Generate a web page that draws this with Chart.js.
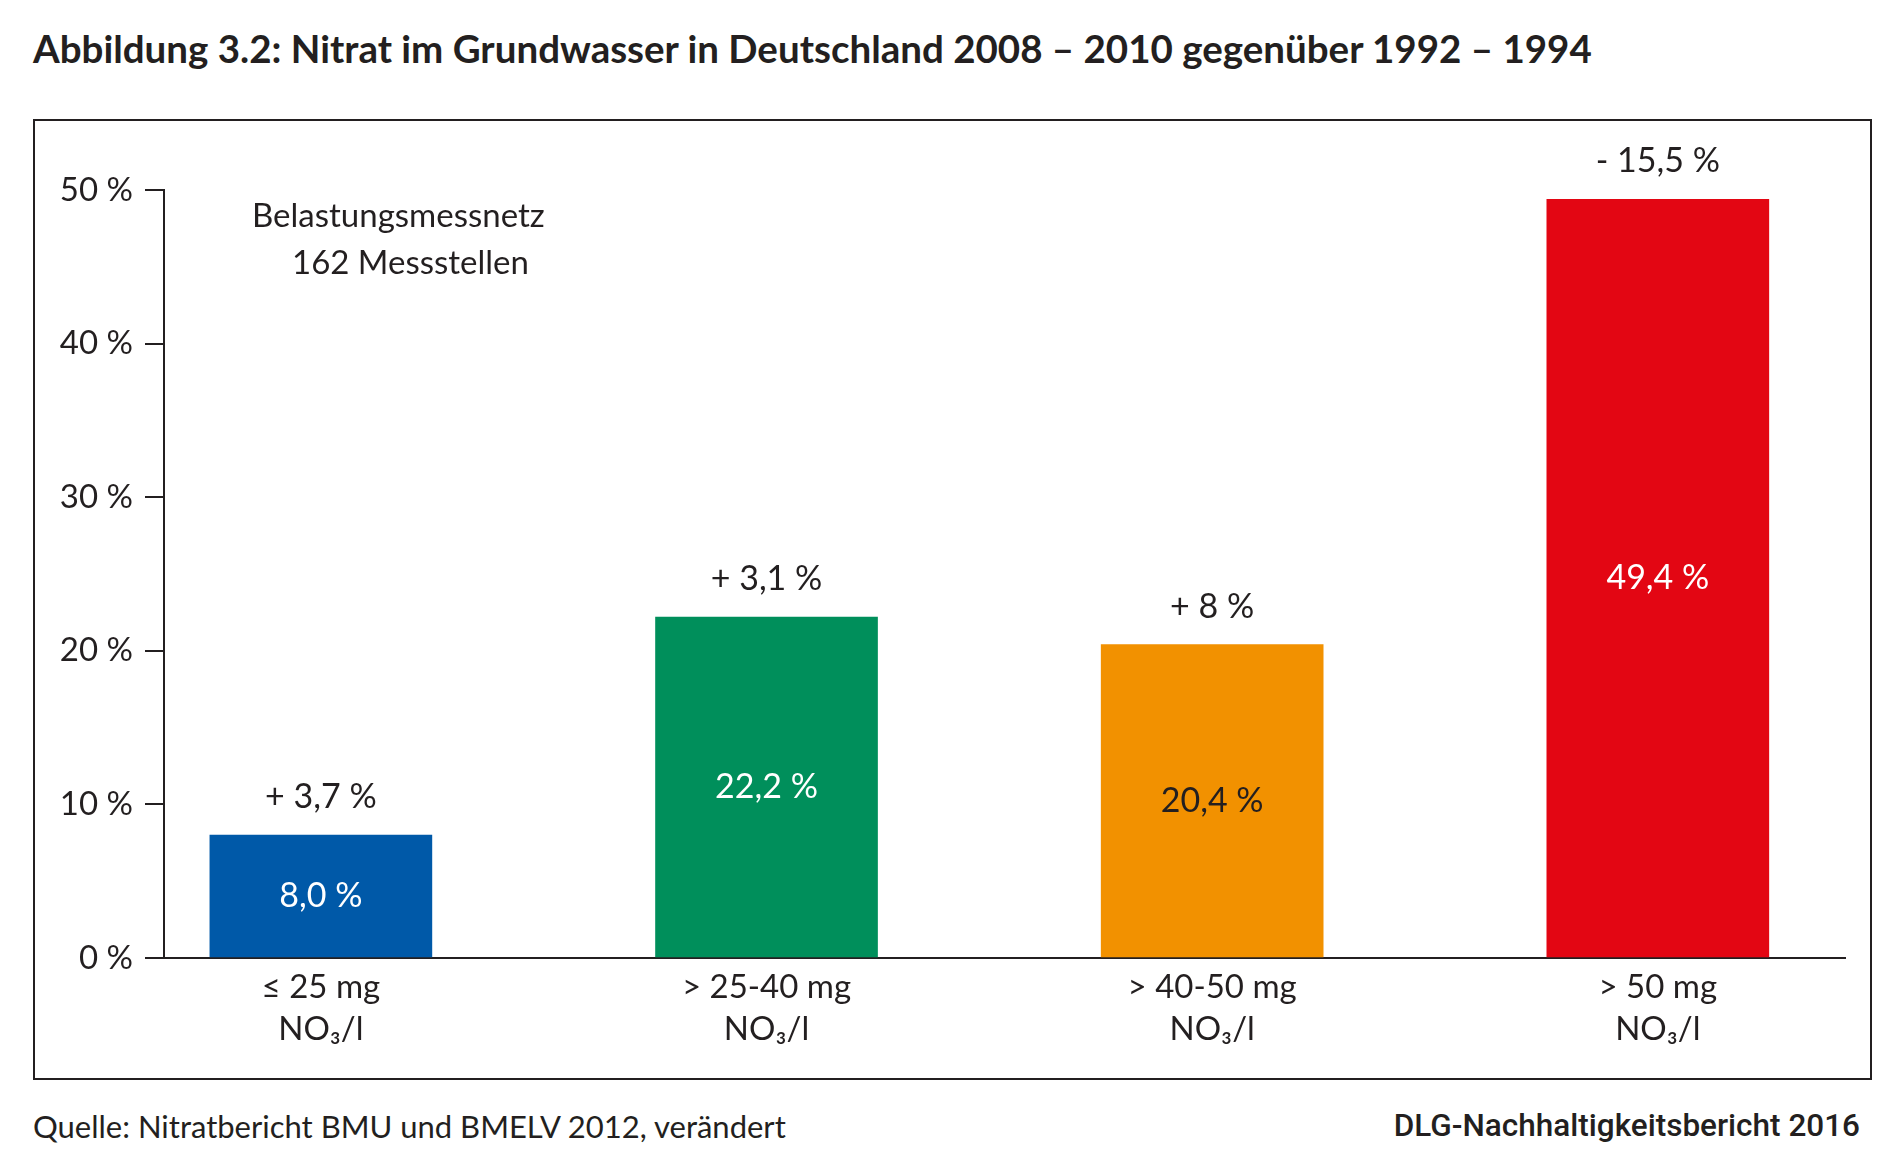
<!DOCTYPE html>
<html lang="de">
<head>
<meta charset="utf-8">
<title>Nitrat im Grundwasser</title>
<script src="https://cdn.jsdelivr.net/npm/chart.js@4.4.1/dist/chart.umd.min.js"></script>
<style>
    body {
        margin: 0;
        width: 1900px;
        height: 1167px;
        background: #fff;
        position: relative;
        font-family: Lato, sans-serif;
        color: #231f20;
    }
    #titel {
        position: absolute;
        left: 33px;
        top: 25px;
        font: bold 38.5px Lato, sans-serif;
        white-space: nowrap;
    }
    #rahmen {
        position: absolute;
        left: 33px;
        top: 119px;
        width: 1835px;
        height: 957px;
        border: 2px solid #231f20;
    }
    #quelle {
        position: absolute;
        left: 33px;
        top: 1107px;
        font: 31px Lato, sans-serif;
        white-space: nowrap;
    }
    #dlg {
        position: absolute;
        right: 40px;
        top: 1107px;
        font: 500 31.5px Roboto, sans-serif;
        white-space: nowrap;
    }
</style>
</head>
<body>
<div id="titel">Abbildung 3.2: Nitrat im Grundwasser in Deutschland 2008 – 2010 gegenüber 1992 – 1994</div>
<div id="rahmen"><canvas id="grafico"></canvas></div>
<div id="quelle">Quelle: Nitratbericht BMU und BMELV 2012, verändert</div>
<div id="dlg">DLG-Nachhaltigkeitsbericht 2016</div>

<script>
"use strict"

// Konzentrationsklassen (mg NO3/l)
let kategorien = [
    ["≤ 25 mg", "NO₃/l"],
    ["> 25-40 mg", "NO₃/l"],
    ["> 40-50 mg", "NO₃/l"],
    ["> 50 mg", "NO₃/l"]
];
// Anteil der Messstellen 2008-2010 in %
let anteile = [8.0, 22.2, 20.4, 49.4];
// Veraenderung gegenueber 1992-1994 in Prozentpunkten
let veraenderung = [3.7, 3.1, 8, -15.5];
let yTicks = [0, 10, 20, 30, 40, 50];

let farben = ["#0059a8", "#008f5b", "#f29100", "#e30613"];
let textFarben = ["#ffffff", "#ffffff", "#231f20", "#ffffff"];

function formatAnteil(v) {
    return v.toFixed(1).replace(".", ",") + " %";
}

function formatDelta(v) {
    let segno = v < 0 ? "-" : "+";
    return segno + " " + Math.abs(v).toLocaleString("de-DE") + " %";
}

window.onload = function () {
    let canvas = document.getElementById("grafico");
    let rahmen = document.getElementById("rahmen");
    canvas.width = rahmen.clientWidth;
    canvas.height = rahmen.clientHeight;

    let punkte = anteile.map(function (v, i) {
        return { x: i, y: v };
    });

    let beschriftung = {
        id: "beschriftung",
        afterDatasetsDraw: function (chart) {
            let ctx = chart.ctx;
            let area = chart.chartArea;
            let meta = chart.getDatasetMeta(0);
            ctx.save();
            ctx.textAlign = "center";
            ctx.textBaseline = "middle";
            ctx.font = "34px Lato, sans-serif";
            meta.data.forEach(function (bar, i) {
                ctx.fillStyle = textFarben[i];
                ctx.fillText(formatAnteil(anteile[i]), bar.x, (bar.y + bar.base) / 2);
                ctx.fillStyle = "#231f20";
                ctx.fillText(formatDelta(veraenderung[i]), bar.x, bar.y - 38);
            });
            ctx.textAlign = "left";
            ctx.font = "33px Lato, sans-serif";
            ctx.fillStyle = "#231f20";
            ctx.fillText("Belastungsmessnetz", area.left + 88, area.top + 26);
            ctx.fillText("162 Messstellen", area.left + 128, area.top + 73);
            ctx.restore();
        }
    };

    new Chart(canvas, {
        type: "bar",
        data: {
            datasets: [{
                data: punkte,
                backgroundColor: farben,
                borderWidth: 0,
                barThickness: 222
            }]
        },
        options: {
            responsive: false,
            animation: false,
            layout: {
                padding: { left: 0, right: 25, top: 69, bottom: 0 }
            },
            plugins: {
                legend: { display: false },
                tooltip: { enabled: false }
            },
            scales: {
                x: {
                    type: "linear",
                    offset: false,
                    min: -0.352,
                    max: 3.42,
                    afterBuildTicks: function (axis) {
                        axis.ticks = kategorien.map(function (k, i) {
                            return { value: i };
                        });
                    },
                    afterFit: function (axis) {
                        axis.height = 120;
                    },
                    grid: { display: false, drawTicks: false },
                    border: { display: true, color: "#231f20", width: 2 },
                    ticks: {
                        padding: 9,
                        color: "#231f20",
                        font: { family: "Lato", size: 33, lineHeight: 1.25 },
                        maxRotation: 0,
                        autoSkip: false,
                        callback: function (value) {
                            return kategorien[value];
                        }
                    }
                },
                y: {
                    min: 0,
                    max: 50,
                    afterBuildTicks: function (axis) {
                        axis.ticks = yTicks.map(function (v) {
                            return { value: v };
                        });
                    },
                    afterFit: function (axis) {
                        axis.width = 129;
                    },
                    grid: {
                        drawOnChartArea: false,
                        drawTicks: true,
                        tickLength: 19,
                        color: "#231f20",
                        lineWidth: 2
                    },
                    border: { display: true, color: "#231f20", width: 2 },
                    ticks: {
                        padding: 12,
                        color: "#231f20",
                        font: { family: "Lato", size: 33 },
                        callback: function (value) {
                            return value + " %";
                        }
                    }
                }
            }
        },
        plugins: [beschriftung]
    });
}
</script>
</body>
</html>
